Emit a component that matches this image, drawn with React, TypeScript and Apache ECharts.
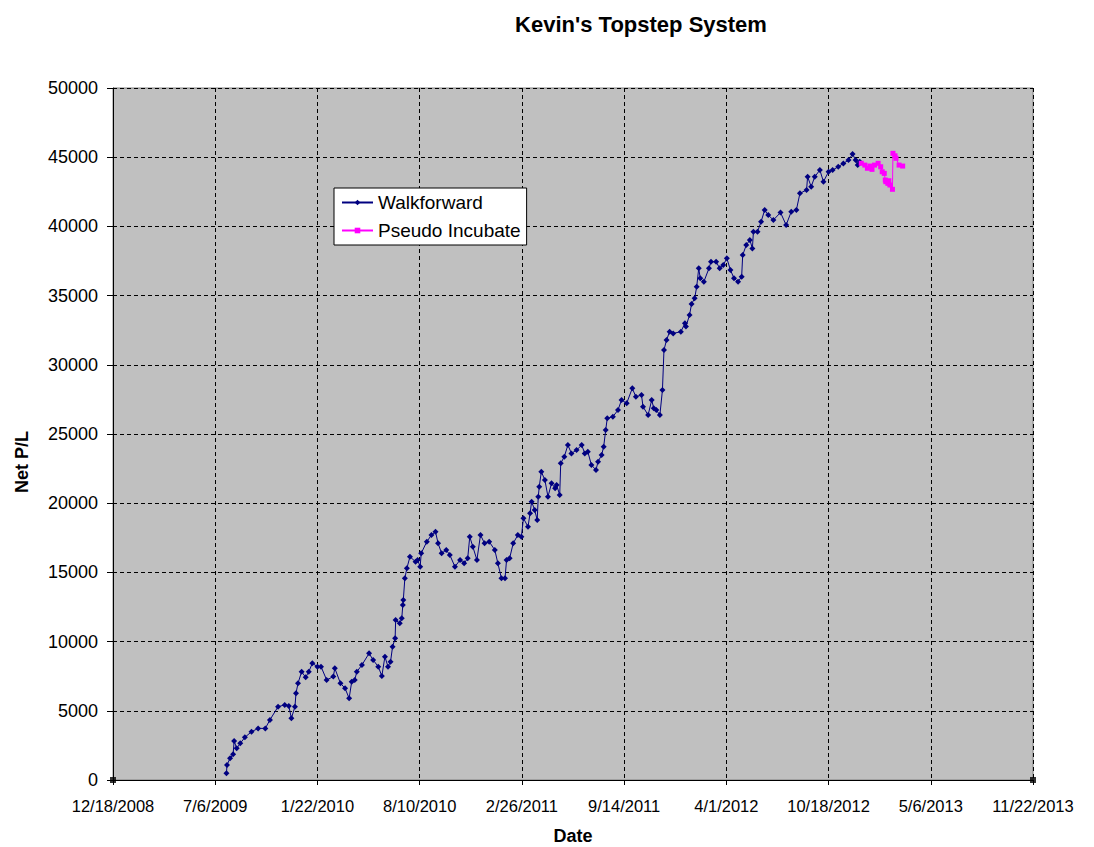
import React, { useEffect, useRef } from "react";
import * as echarts from "echarts";

const xTickStart = "2008-12-18";
const xTickDays = 200;
const xTickCount = 9;
const yMax = 50000;
const yStep = 5000;

const walkDates = [
  "2009-07-28","2009-07-29","2009-08-04","2009-08-10","2009-08-12","2009-08-17","2009-08-24","2009-09-02","2009-09-15","2009-09-28",
  "2009-10-12","2009-10-21","2009-11-06","2009-11-19","2009-11-27","2009-12-02","2009-12-09","2009-12-11","2009-12-15","2009-12-22",
  "2009-12-30","2010-01-05","2010-01-12","2010-01-22","2010-01-29","2010-02-09","2010-02-22","2010-02-25","2010-03-08","2010-03-17",
  "2010-03-25","2010-03-30","2010-04-05","2010-04-09","2010-04-19","2010-05-03","2010-05-11","2010-05-21","2010-05-28","2010-06-03",
  "2010-06-09","2010-06-14","2010-06-18","2010-06-23","2010-06-24","2010-07-02","2010-07-06","2010-07-08","2010-07-09","2010-07-12",
  "2010-07-16","2010-07-22","2010-08-02","2010-08-06","2010-08-11","2010-08-13","2010-08-24","2010-09-02","2010-09-10","2010-09-15",
  "2010-09-22","2010-10-01","2010-10-08","2010-10-18","2010-10-28","2010-11-05","2010-11-12","2010-11-16","2010-11-22","2010-11-30",
  "2010-12-07","2010-12-15","2010-12-24","2011-01-04","2011-01-10","2011-01-17","2011-01-24","2011-01-27","2011-02-02","2011-02-09",
  "2011-02-18","2011-02-25","2011-03-01","2011-03-10","2011-03-14","2011-03-17","2011-03-23","2011-03-28","2011-03-30","2011-04-01",
  "2011-04-05","2011-04-12","2011-04-18","2011-04-25","2011-05-02","2011-05-05","2011-05-11","2011-05-13","2011-05-20","2011-05-27",
  "2011-06-03","2011-06-13","2011-06-23","2011-06-29","2011-07-05","2011-07-12","2011-07-21","2011-07-25","2011-08-01","2011-08-05",
  "2011-08-09","2011-08-12","2011-08-23","2011-09-02","2011-09-09","2011-09-19","2011-09-30","2011-10-07","2011-10-18","2011-10-21",
  "2011-10-31","2011-11-07","2011-11-11","2011-11-16","2011-11-23","2011-11-28","2011-12-01","2011-12-06","2011-12-12","2011-12-19",
  "2012-01-03","2012-01-11","2012-01-13","2012-01-20","2012-01-24","2012-01-30","2012-02-03","2012-02-07","2012-02-10","2012-02-17",
  "2012-02-27","2012-03-02","2012-03-12","2012-03-19","2012-03-26","2012-04-02","2012-04-09","2012-04-16","2012-04-24","2012-05-01",
  "2012-05-03","2012-05-10","2012-05-17","2012-05-22","2012-05-24","2012-06-01","2012-06-08","2012-06-15","2012-06-22","2012-07-02",
  "2012-07-16","2012-07-27","2012-08-06","2012-08-16","2012-08-23","2012-09-05","2012-09-07","2012-09-14","2012-09-21","2012-10-01",
  "2012-10-08","2012-10-18","2012-10-26","2012-11-06","2012-11-16","2012-11-26","2012-12-04","2012-12-10","2012-12-14","2012-12-18",
];
const walkValues = [
  480,1080,1570,1860,2820,2290,2650,3080,3490,3730,
  3730,4340,5300,5420,5350,4460,5300,6260,6990,7820,
  7420,7820,8430,8190,8190,7230,7470,8070,6990,6630,
  5900,7100,7230,7820,8310,9150,8670,8190,7510,8910,
  8190,8550,9630,10240,11560,11320,11680,12640,13000,14570,
  15300,16130,15770,15900,15410,16380,17220,17700,17940,17100,
  16380,16620,16260,15410,15900,15660,16020,17580,16860,15900,
  17700,17100,17220,16620,15660,14570,14570,15900,16020,17100,
  17700,17580,18910,18300,19270,20110,19510,18790,20470,21190,
  22270,21680,20470,21440,21080,21310,20590,22880,23360,24200,
  23600,23840,24200,23600,23720,22760,22400,23000,23480,24080,
  25290,26130,26250,26730,27460,27220,28300,27690,27820,26970,
  26370,27460,26860,26730,26370,28180,31070,31790,32390,32270,
  32390,33000,32760,33600,34400,34800,35640,36970,36250,36000,
  36970,37450,37450,36970,37210,37690,36850,36250,36000,36370,
  37930,38650,39020,38410,39620,39620,40340,41180,40820,40460,
  41000,40100,41060,41180,42390,42630,43590,42870,43590,44070,
  43230,43950,44070,44310,44550,44790,45230,44790,44430,44670,
];

const incubDates = [
  "2012-12-21","2012-12-28","2013-01-02","2013-01-07","2013-01-11","2013-01-16","2013-01-23","2013-01-28","2013-01-31","2013-02-04",
  "2013-02-06","2013-02-07","2013-02-11","2013-02-13","2013-02-15","2013-02-20","2013-02-21","2013-02-25","2013-02-27","2013-03-05",
  "2013-03-12",
];
const incubValues = [
  44560,44430,44200,44360,44120,44430,44560,44310,43950,43830,
  43350,43230,43110,43300,42990,42680,45280,45100,44920,44430,
  44360,
];

const edgeDates = ["2008-12-18", "2013-11-22"];
const edgeValues = [0, 0];

const FONT = "'Liberation Sans', Arial, sans-serif";
const DAY = 86400000;
const base = Date.parse(xTickStart);
const toDay = (s: string) => Math.round((Date.parse(s) - base) / DAY);
const fmtDay = (v: number) => {
  const d = new Date(base + v * DAY);
  return `${d.getUTCMonth() + 1}/${d.getUTCDate()}/${d.getUTCFullYear()}`;
};

export default function App() {
  const ref = useRef<HTMLDivElement>(null);
  useEffect(() => {
    if (!ref.current) return;
    const chart = echarts.init(ref.current, undefined, { renderer: "svg" });
    const walk = walkDates.map((d, i) => [toDay(d), walkValues[i]]);
    const incub = incubDates.map((d, i) => [toDay(d), incubValues[i]]);
    const edges = edgeDates.map((d, i) => [toDay(d), edgeValues[i]]);
    chart.setOption({
      animation: false,
      backgroundColor: "#ffffff",
      grid: {
        left: 113,
        right: 61,
        top: 88,
        bottom: 67,
        show: true,
        backgroundColor: "#C0C0C0",
        borderColor: "#808080",
        borderWidth: 1,
      },
      graphic: [
        {
          type: "text",
          x: 641,
          y: 24,
          style: {
            text: "Kevin's Topstep System",
            fontFamily: FONT,
            fontWeight: "bold",
            fontSize: 22,
            fill: "#000",
            align: "center",
            verticalAlign: "middle",
          },
        },
        {
          type: "text",
          x: 22,
          y: 462,
          rotation: Math.PI / 2,
          style: {
            text: "Net P/L",
            fontFamily: FONT,
            fontWeight: "bold",
            fontSize: 18,
            fill: "#000",
            align: "center",
            verticalAlign: "middle",
          },
        },
        {
          type: "text",
          x: 573,
          y: 836,
          style: {
            text: "Date",
            fontFamily: FONT,
            fontWeight: "bold",
            fontSize: 18,
            fill: "#000",
            align: "center",
            verticalAlign: "middle",
          },
        },
      ],
      legend: {
        orient: "vertical",
        left: 334,
        top: 188,
        data: ["Walkforward", "Pseudo Incubate"],
        backgroundColor: "#ffffff",
        borderColor: "#000000",
        borderWidth: 1,
        padding: [5, 6, 5, 7],
        itemGap: 9,
        itemWidth: 31,
        itemHeight: 7,
        textStyle: { fontFamily: FONT, fontSize: 19, color: "#000" },
      },
      xAxis: {
        type: "value",
        min: 0,
        max: xTickDays * xTickCount,
        interval: xTickDays,
        axisLine: { show: true, onZero: false, lineStyle: { color: "#000", width: 1 } },
        axisTick: { show: true, length: 5, lineStyle: { color: "#000" } },
        axisLabel: {
          formatter: fmtDay,
          fontFamily: FONT,
          fontSize: 16.5,
          color: "#000",
          margin: 17,
        },
        splitLine: { show: true, lineStyle: { color: "#000", type: [4, 3], width: 1 } },
      },
      yAxis: {
        type: "value",
        min: 0,
        max: yMax,
        interval: yStep,
        axisLine: { show: true, lineStyle: { color: "#000", width: 1 } },
        axisTick: { show: true, length: 6, lineStyle: { color: "#000" } },
        axisLabel: {
          formatter: (v: number) => String(v),
          fontFamily: FONT,
          fontSize: 18,
          color: "#000",
          margin: 15,
        },
        splitLine: { show: true, lineStyle: { color: "#000", type: [4, 3], width: 1 } },
      },
      series: [
        {
          name: "Walkforward",
          type: "line",
          data: walk,
          color: "#000080",
          symbol: "diamond",
          symbolSize: 6,
          showAllSymbol: true,
          lineStyle: { color: "#000080", width: 1 },
          itemStyle: { color: "#000080" },
        },
        {
          name: "Pseudo Incubate",
          type: "line",
          data: incub,
          color: "#FF00FF",
          symbol: "rect",
          symbolSize: 5,
          showAllSymbol: true,
          lineStyle: { color: "#FF00FF", width: 1 },
          itemStyle: { color: "#FF00FF" },
        },
        {
          name: "edge",
          type: "scatter",
          data: edges,
          symbol: "rect",
          symbolSize: 6,
          itemStyle: { color: "#000" },
          silent: true,
        },
      ],
    });
    return () => chart.dispose();
  }, []);
  return (
    <div
      ref={ref}
      style={{ position: "absolute", left: 0, top: 0, width: 1094, height: 847 }}
    />
  );
}
